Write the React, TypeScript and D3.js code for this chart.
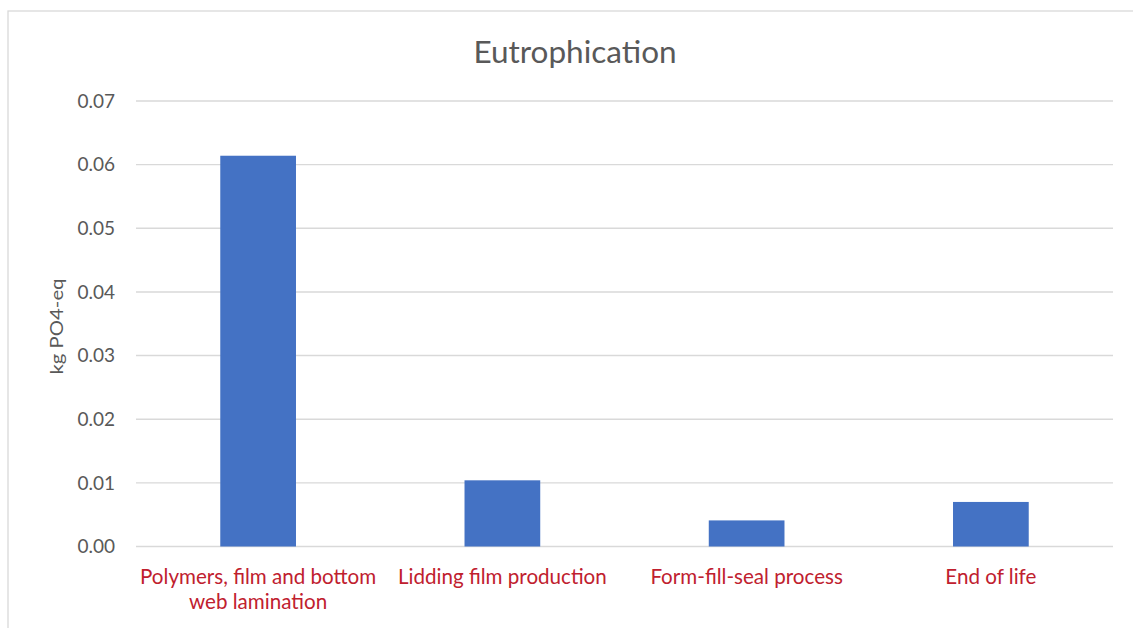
import React from "react";
import * as d3 from "d3";

// Eutrophication impact per life-cycle stage
const categories: string[][] = [
  ["Polymers, film and bottom", "web lamination"],
  ["Lidding film production"],
  ["Form-fill-seal process"],
  ["End of life"],
];
const values: number[] = [0.0614, 0.0104, 0.0041, 0.007];
const yTicks: number[] = [0, 0.01, 0.02, 0.03, 0.04, 0.05, 0.06, 0.07];

const W = 1133;
const H = 628;
const FONT = "Lato, 'Open Sans', sans-serif";

export default function App() {
  const left = 136;
  const right = 1113;
  const top = 101;
  const bottom = 546.5;

  const x = d3
    .scaleBand<number>()
    .domain(d3.range(categories.length))
    .range([left, right])
    .paddingInner(0.69)
    .paddingOuter(0.345);
  const y = d3.scaleLinear().domain([0, 0.07]).range([bottom, top]);

  return (
    <svg
      width={W}
      height={H}
      style={{ position: "absolute", left: 0, top: 0, background: "#fff" }}
    >
      <rect x={8} y={11} width={1140} height={640} fill="#fff" stroke="#d9d9d9" strokeWidth={1.3} />
      <text
        x={575}
        y={63}
        textAnchor="middle"
        fontFamily={FONT}
        fontSize={31.5}
        fill="#595959"
      >
        Eutrophication
      </text>
      {yTicks.map((t) => (
        <g key={t}>
          <line x1={left} x2={right} y1={y(t)} y2={y(t)} stroke="#d9d9d9" strokeWidth={1.4} />
          <text
            x={115}
            y={y(t)}
            dy="0.36em"
            textAnchor="end"
            fontFamily={FONT}
            fontSize={19}
            fill="#595959"
          >
            {d3.format(".2f")(t)}
          </text>
        </g>
      ))}
      {values.map((v, i) => (
        <rect
          key={i}
          x={x(i)}
          y={y(v)}
          width={x.bandwidth()}
          height={y(0) - y(v)}
          fill="#4472c4"
        />
      ))}
      {categories.map((lines, i) => (
        <text
          key={i}
          x={(x(i) as number) + x.bandwidth() / 2}
          y={584}
          textAnchor="middle"
          fontFamily={FONT}
          fontSize={20.6}
          fill="#c0202e"
        >
          {lines.map((l, j) => (
            <tspan key={j} x={(x(i) as number) + x.bandwidth() / 2} dy={j === 0 ? 0 : 25}>
              {l}
            </tspan>
          ))}
        </text>
      ))}
      <text
        transform={`translate(63, 326.5) rotate(-90)`}
        textAnchor="middle"
        fontFamily={FONT}
        fontSize={17}
        textLength={96}
        lengthAdjust="spacingAndGlyphs"
        fill="#595959"
      >
        kg PO4-eq
      </text>
    </svg>
  );
}
